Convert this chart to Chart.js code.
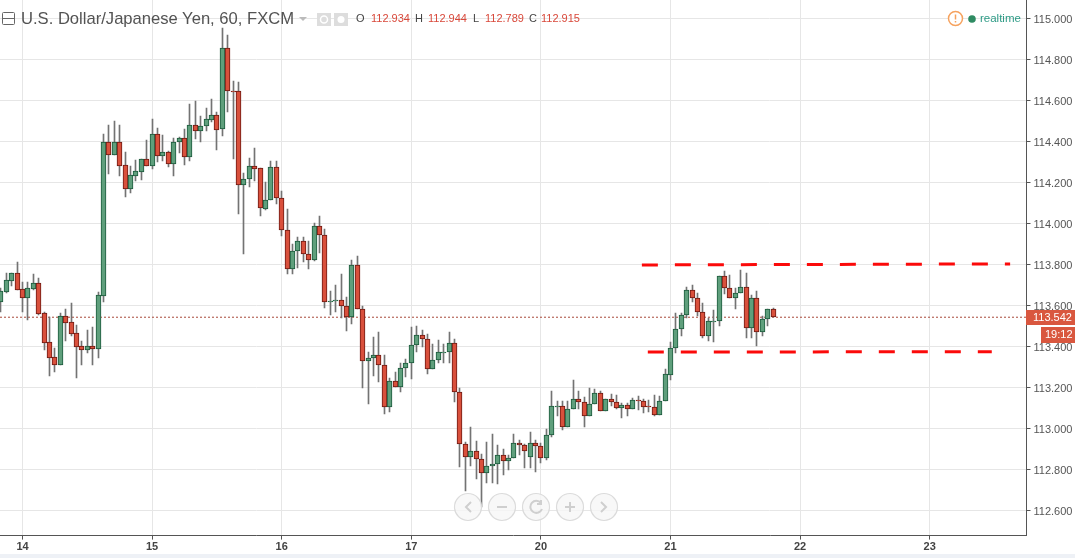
<!DOCTYPE html>
<html>
<head>
<meta charset="utf-8">
<title>USDJPY</title>
<script src="https://cdn.jsdelivr.net/npm/chart.js@4"></script>
<style>
  html, body { margin: 0; padding: 0; background: #eef1f6; overflow: hidden; }
  #wrap { position: relative; width: 1075px; height: 554px; background: #fff; }
  #wrap canvas { position: absolute; left: 0; top: 0; }
  .lbl { position: absolute; white-space: nowrap; font-family: "Liberation Sans", Arial, sans-serif; }
  #title { left: 21px; top: 9px; font-size: 16.6px; color: #535353; }
  .ohlc { top: 12px; font-size: 11px; color: #444; }
  .ohlc.val { color: #d9483a; }
  #realtime { left: 980px; top: 12px; font-size: 11.5px; color: #2e9b86; }
  svg.ov { position: absolute; left: 0; top: 0; pointer-events: none; }
</style>
</head>
<body>
<div id="wrap">
  <canvas id="myChart" width="1075" height="554"></canvas>
  <svg class="ov" width="1075" height="554">
    <!-- cabecera -->
    <rect x="2.5" y="12.5" width="12" height="12" rx="1" fill="#fff" stroke="#666"/>
    <line x1="3" y1="18.5" x2="14" y2="18.5" stroke="#666"/>
    <path d="M299 17 h8 l-4 4 z" fill="#bbb"/>
    <rect x="317" y="13" width="14" height="13" fill="#ddd"/>
    <circle cx="324" cy="19.5" r="3.5" fill="none" stroke="#fff" stroke-width="1.5"/>
    <rect x="334" y="13" width="14" height="13" fill="#ddd"/>
    <circle cx="341" cy="19.5" r="3.5" fill="#fff"/>
    <circle cx="955.5" cy="18.5" r="7" fill="#fff" stroke="#f6a25e" stroke-width="1.5"/>
    <line x1="955.5" y1="14.5" x2="955.5" y2="19.5" stroke="#f6a25e" stroke-width="1.5"/>
    <line x1="955.5" y1="21" x2="955.5" y2="22.5" stroke="#f6a25e" stroke-width="1.5"/>
    <circle cx="972" cy="19" r="3.8" fill="#2e8b62"/>
    <!-- botones de navegacion -->
    <g fill="#f6f6f6" fill-opacity="0.8" stroke="#dcdcdc" stroke-width="1.2">
      <circle cx="468" cy="507" r="13.5"/>
      <circle cx="502" cy="507" r="13.5"/>
      <circle cx="536" cy="507" r="13.5"/>
      <circle cx="570" cy="507" r="13.5"/>
      <circle cx="604" cy="507" r="13.5"/>
    </g>
    <g fill="none" stroke="#cfcfcf" stroke-width="2">
      <path d="M471 502 l-5 5 l5 5"/>
      <path d="M497 507 h10"/>
      <path d="M541 503 a6 6 0 1 0 1 6 M541 500 v4 h-4"/>
      <path d="M565 507 h10 M570 502 v10"/>
      <path d="M601 502 l5 5 l-5 5"/>
    </g>
  </svg>
  <div class="lbl" id="title">U.S. Dollar/Japanese Yen, 60, FXCM</div>
  <div class="lbl ohlc" style="left:356px">O</div><div class="lbl ohlc val" style="left:371px">112.934</div>
  <div class="lbl ohlc" style="left:415px">H</div><div class="lbl ohlc val" style="left:428px">112.944</div>
  <div class="lbl ohlc" style="left:473px">L</div><div class="lbl ohlc val" style="left:485px">112.789</div>
  <div class="lbl ohlc" style="left:529px">C</div><div class="lbl ohlc val" style="left:541px">112.915</div>
  <div class="lbl" id="realtime">realtime</div>
</div>
<script>
const ctx = document.getElementById('myChart').getContext('2d');

// Velas de 60 minutos (una por hora, el indice 0 es el inicio del dia 14)
const primerIndice = -4;
const opens = [113.617,113.666,113.720,113.756,113.678,113.637,113.681,113.707,113.561,113.419,113.346,113.310,113.546,113.517,113.463,113.400,113.383,113.400,113.388,113.647,
  114.395,114.334,114.395,114.283,114.169,114.232,114.250,114.312,114.281,114.434,114.329,114.346,114.290,114.395,114.414,114.325,114.478,114.451,114.473,114.505,114.527,114.458,
  114.853,114.644,114.644,114.185,114.214,114.278,114.268,114.071,114.112,114.273,114.122,113.966,113.778,113.863,113.912,113.851,113.822,113.985,113.941,113.617,113.619,113.624,
  113.598,113.544,113.795,113.583,113.329,113.344,113.356,113.310,113.105,113.229,113.200,113.292,113.317,113.405,113.453,113.437,113.288,113.331,113.370,113.370,113.414,
  113.175,112.922,112.858,112.888,112.849,112.780,112.814,112.824,112.868,112.839,112.853,112.927,112.917,112.858,112.931,112.912,112.853,112.970,113.107,113.107,113.005,
  113.092,113.141,113.127,113.058,113.117,113.170,113.083,113.141,113.127,113.097,113.112,113.092,113.136,113.134,113.107,113.102,113.066,113.131,113.261,113.390,113.483,
  113.551,113.673,113.634,113.569,113.449,113.522,113.522,113.741,113.683,113.634,113.658,113.688,113.488,113.634,113.468,113.531,113.580];
const highs = [113.684,113.757,113.757,113.809,113.713,113.713,113.752,113.733,113.566,113.541,113.391,113.561,113.582,113.609,113.504,113.426,113.479,113.494,113.663,114.435,
  114.479,114.499,114.478,114.348,114.279,114.307,114.313,114.406,114.509,114.465,114.430,114.352,114.416,114.422,114.460,114.582,114.596,114.523,114.561,114.606,114.541,114.951,
  114.918,114.694,114.689,114.244,114.317,114.366,114.268,114.200,114.302,114.302,114.156,114.068,113.899,113.931,113.931,113.912,114.000,114.035,113.970,113.669,113.699,113.752,
  113.639,113.819,113.839,113.595,113.370,113.445,113.469,113.356,113.245,113.273,113.317,113.338,113.494,113.497,113.478,113.458,113.409,113.429,113.409,113.469,113.434,
  113.195,112.934,113.005,112.936,112.873,112.933,112.972,112.917,112.897,112.869,112.972,112.941,112.922,112.980,112.941,112.927,112.996,113.182,113.133,113.134,113.134,
  113.234,113.182,113.154,113.195,113.190,113.180,113.141,113.166,113.161,113.123,113.122,113.146,113.157,113.143,113.138,113.162,113.157,113.289,113.419,113.561,113.562,
  113.690,113.699,113.661,113.609,113.536,113.577,113.741,113.767,113.748,113.686,113.772,113.756,113.650,113.668,113.548,113.580,113.587];
const lows = [113.569,113.661,113.694,113.676,113.567,113.528,113.674,113.552,113.382,113.255,113.274,113.310,113.426,113.450,113.245,113.309,113.367,113.309,113.343,113.616,
  114.240,114.334,114.230,114.128,114.148,114.206,114.211,114.279,114.265,114.299,114.305,114.276,114.230,114.344,114.284,114.305,114.411,114.396,114.451,114.495,114.357,114.426,
  114.544,114.315,114.045,113.851,114.178,114.208,114.037,114.066,114.112,114.095,113.939,113.752,113.752,113.783,113.812,113.777,113.817,113.856,113.588,113.552,113.569,113.536,
  113.476,113.509,113.583,113.198,113.120,113.256,113.226,113.071,113.081,113.200,113.178,113.251,113.240,113.372,113.398,113.266,113.288,113.320,113.320,113.320,113.128,
  112.812,112.695,112.817,112.754,112.617,112.734,112.734,112.729,112.773,112.798,112.853,112.869,112.808,112.808,112.788,112.829,112.847,112.956,113.058,112.991,113.005,
  113.092,113.092,113.006,113.058,113.117,113.083,113.083,113.109,113.092,113.051,113.060,113.092,113.089,113.076,113.081,113.060,113.066,113.131,113.235,113.369,113.450,
  113.538,113.617,113.549,113.440,113.427,113.422,113.499,113.655,113.634,113.582,113.658,113.440,113.440,113.401,113.451,113.500,113.542];
const closes = [113.668,113.722,113.756,113.676,113.637,113.683,113.707,113.559,113.417,113.344,113.310,113.546,113.515,113.461,113.398,113.383,113.400,113.388,113.649,114.395,
  114.334,114.395,114.281,114.169,114.234,114.253,114.312,114.281,114.434,114.329,114.346,114.290,114.395,114.414,114.325,114.478,114.451,114.473,114.507,114.527,114.456,114.853,
  114.644,114.642,114.185,114.214,114.278,114.266,114.073,114.112,114.273,114.122,113.966,113.778,113.863,113.912,113.851,113.822,113.985,113.941,113.617,113.619,113.624,113.598,
  113.544,113.795,113.583,113.329,113.344,113.356,113.310,113.105,113.229,113.200,113.292,113.317,113.405,113.453,113.437,113.288,113.331,113.370,113.372,113.414,113.175,
  112.922,112.858,112.888,112.849,112.780,112.814,112.824,112.868,112.839,112.853,112.927,112.917,112.892,112.931,112.912,112.853,112.970,113.107,113.109,113.005,113.092,
  113.141,113.127,113.058,113.117,113.170,113.083,113.141,113.127,113.097,113.112,113.092,113.136,113.134,113.105,113.102,113.066,113.131,113.263,113.390,113.483,113.551,
  113.673,113.634,113.569,113.449,113.522,113.524,113.741,113.683,113.634,113.658,113.688,113.488,113.634,113.468,113.531,113.580,113.542];

// Ejes
const diasEtiquetas = ['14', '15', '16', '17', '20', '21', '22', '23'];
const horasPorDia = 24;
const precioTicks = [112.6, 112.8, 113.0, 113.2, 113.4, 113.6, 113.8, 114.0, 114.2, 114.4, 114.6, 114.8, 115.0];

// Lineas rojas dibujadas a mano: [indice, precio]
const resistencia = [[114.7, 113.797], [182.9, 113.802]];
const soporte = [[115.8, 113.372], [179.5, 113.374]];

const ultimoPrecio = 113.542;
const cuentaAtras = '19:12';

const velas = opens.map((o, i) => ({ x: i + primerIndice, y: [o, closes[i]] }));
const mechas = lows.map((l, i) => ({ x: i + primerIndice, y: [l, highs[i]] }));
const esVerde = i => closes[i] >= opens[i];

const xMin = -4.17;
const xMax = 185.93;

// Ajustar las barras al pixel para que queden nitidas como en el original
const pixelPlugin = {
    id: 'pixelPlugin',
    beforeDatasetDraw(chart, args) {
        const meta = args.meta;
        if (meta.type !== 'bar') return;
        meta.data.forEach(el => {
            el.x = Math.floor(el.x) + 0.5;
            el.y = Math.round(el.y);
            el.base = Math.round(el.base);
            if (el.y === el.base) el.base = el.y + 1;
        });
    }
};

// Bajar un poco las etiquetas del eje de precios
const ticksPlugin = {
    id: 'ticksPlugin',
    beforeDraw(chart) {
        chart.scales.y.getLabelItems(chart.chartArea).forEach(item => {
            item.options.translation[1] += 1.5;
        });
    }
};

// Etiquetas rojas del precio actual y la cuenta atras sobre el eje
const etiquetasPlugin = {
    id: 'etiquetasPlugin',
    afterDraw(chart) {
        const c = chart.ctx;
        const yPrecio = Math.round(chart.scales.y.getPixelForValue(ultimoPrecio));
        c.save();
        c.fillStyle = '#d9573f';
        c.fillRect(1026, yPrecio - 7, 49, 15);
        c.fillRect(1041, yPrecio + 10, 34, 16);
        c.fillStyle = '#fff';
        c.font = '11px "Liberation Sans", Arial, sans-serif';
        c.textBaseline = 'middle';
        c.textAlign = 'left';
        c.fillText(ultimoPrecio.toFixed(3), 1033, yPrecio + 1);
        c.fillText(cuentaAtras, 1045, yPrecio + 18);
        c.restore();
    }
};

new Chart(ctx, {
    data: {
        datasets: [
            {
                type: 'bar',
                data: velas,
                order: 1,
                grouped: false,
                barThickness: 5,
                borderWidth: 1,
                borderSkipped: false,
                backgroundColor: velas.map((v, i) => esVerde(i) ? '#5f9f7c' : '#d9503c'),
                borderColor: velas.map((v, i) => esVerde(i) ? '#1c5a3c' : '#6e1a12')
            },
            {
                type: 'bar',
                data: mechas,
                order: 2,
                grouped: false,
                barThickness: 1,
                borderWidth: 0,
                backgroundColor: '#737373'
            },
            {
                type: 'line',
                data: resistencia.map(p => ({ x: p[0], y: p[1] })),
                order: 0,
                borderColor: '#fb0a0a',
                borderWidth: 3,
                borderDash: [16, 17],
                pointRadius: 0,
                tension: 0
            },
            {
                type: 'line',
                data: soporte.map(p => ({ x: p[0], y: p[1] })),
                order: 0,
                borderColor: '#fb0a0a',
                borderWidth: 3,
                borderDash: [16, 17],
                pointRadius: 0,
                tension: 0
            },
            {
                type: 'line',
                data: [{ x: xMin, y: ultimoPrecio }, { x: xMax, y: ultimoPrecio }],
                order: 3,
                borderColor: '#a8483a',
                borderWidth: 1,
                borderDash: [2, 2],
                pointRadius: 0
            }
        ]
    },
    options: {
        responsive: false,
        animation: false,
        layout: { padding: 0 },
        plugins: {
            legend: { display: false },
            tooltip: { enabled: false }
        },
        scales: {
            x: {
                type: 'linear',
                offset: false,
                min: xMin,
                max: xMax,
                afterBuildTicks: axis => {
                    axis.ticks = diasEtiquetas.map((d, i) => ({ value: i * horasPorDia }));
                },
                afterFit: axis => {
                    axis.height = 18.4;
                    axis.paddingLeft = 0;
                    axis.paddingRight = 0;
                },
                border: { color: '#555' },
                grid: { offset: false, color: '#e6e6e6', tickColor: '#555', tickLength: 4 },
                ticks: {
                    autoSkip: false,
                    maxRotation: 0,
                    padding: 1,
                    color: '#444',
                    font: { family: '"Liberation Sans", Arial, sans-serif', size: 11, weight: 'bold' },
                    callback: value => diasEtiquetas[value / horasPorDia]
                }
            },
            y: {
                type: 'linear',
                position: 'right',
                min: 112.477,
                max: 115.089,
                afterBuildTicks: axis => {
                    axis.ticks = precioTicks.map(v => ({ value: v }));
                },
                afterFit: axis => {
                    axis.width = 48.5;
                    axis.paddingTop = 0;
                    axis.paddingBottom = 0;
                },
                border: { color: '#555' },
                grid: { color: '#e6e6e6', tickColor: '#555', tickLength: 4 },
                ticks: {
                    padding: 3,
                    color: '#555',
                    font: { family: '"Liberation Sans", Arial, sans-serif', size: 11 },
                    callback: value => value.toFixed(3)
                }
            }
        }
    },
    plugins: [pixelPlugin, ticksPlugin, etiquetasPlugin]
});
</script>
</body>
</html>
